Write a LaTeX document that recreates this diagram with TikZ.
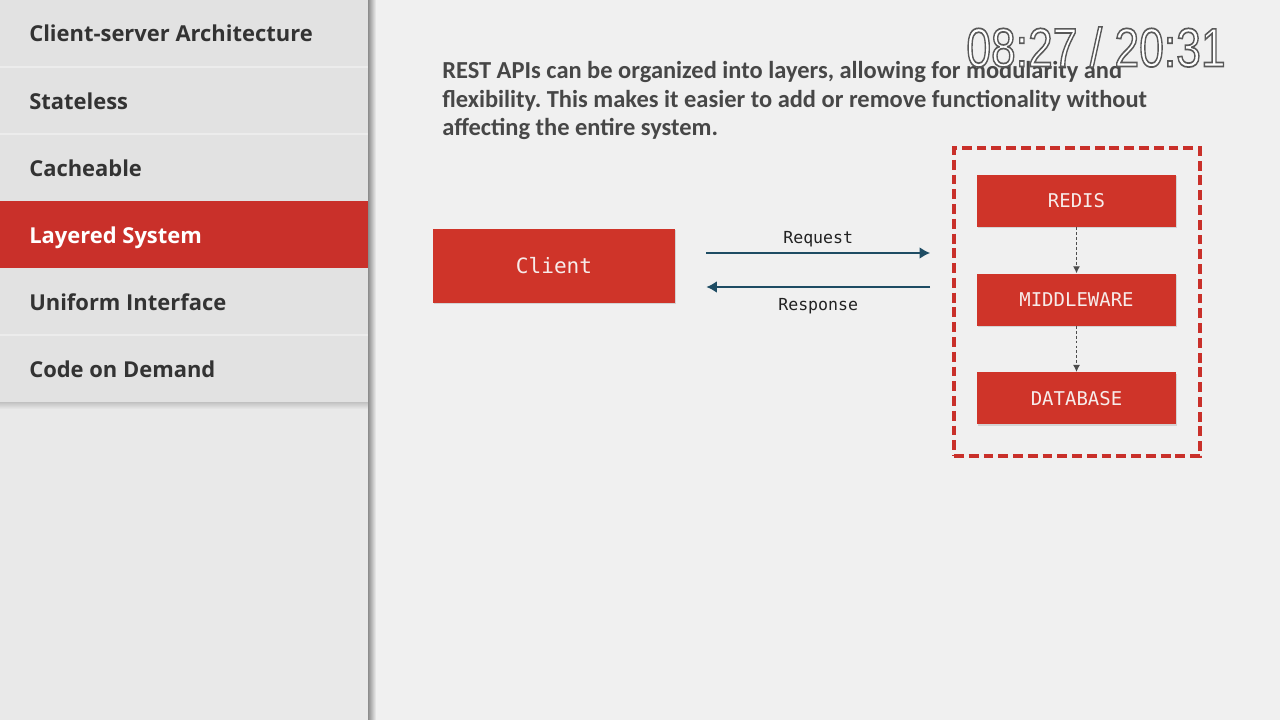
\documentclass[tikz,border=0pt]{standalone}
\usepackage{fontspec}
\setmainfont{Carlito}
\setmonofont{DejaVu Sans Mono}
\newfontfamily\menufont{Open Sans}
\newfontfamily\clockfont{Liberation Sans}
\usepackage{tikz}
\usetikzlibrary{arrows.meta}
\usetikzlibrary{shadows}
\usetikzlibrary{calc}
\usetikzlibrary{positioning}

\definecolor{slidebg}{HTML}{F0F0F0}
\definecolor{sidebg}{HTML}{E2E2E2}
\definecolor{sidelow}{HTML}{E9E9E9}
\definecolor{menutext}{HTML}{333333}
\definecolor{menured}{HTML}{C9302A}
\definecolor{boxred}{HTML}{CF3429}
\definecolor{boxtext}{HTML}{F7ECEA}
\definecolor{bodytext}{HTML}{474747}
\definecolor{linkblue}{HTML}{1E4C63}
\definecolor{msgtext}{HTML}{222222}

\frenchspacing
\begin{document}
\begin{tikzpicture}[x=0.025cm, y=-0.025cm,
    menu/.style={anchor=base west, inner sep=0pt,
      font=\menufont\bfseries\fontsize{15.6}{18}\selectfont},
    redbox/.style={fill=boxred, text=boxtext, inner sep=0pt,
      font=\ttfamily\fontsize{13.5}{16}\selectfont,
      drop shadow={opacity=0.25, shadow xshift=0.7pt, shadow yshift=-1pt}},
    layer/.style={redbox, minimum width=4.975cm, minimum height=1.3cm},
    flow/.style={draw=linkblue, line width=1.8pt,
      -{Latex[length=7.5pt,width=8.5pt]}},
    msg/.style={font=\ttfamily\fontsize{11.8}{14}\selectfont, text=msgtext, inner sep=0pt},
    hop/.style={draw=black!70, dash pattern=on 2pt off 1.5pt, line width=0.7pt,
      -{Latex[length=5pt,width=5pt]}},
    clock/.style={inner sep=0pt, text=white, xscale=0.81,
      font=\clockfont\fontsize{39}{44}\selectfont}]
  \path[use as bounding box] (0,0) rectangle (1280,720);
  \fill[slidebg] (0,0) rectangle (1280,720);

  % sidebar
  \fill[sidebg] (0,0) rectangle (368,403);
  \shade[top color=sidelow, bottom color=slidebg!97!black] (0,403) rectangle (368,720);
  \shade[top color=black!22, bottom color=sidelow] (0,403) rectangle (368,409);
  \shade[left color=black!45, right color=slidebg] (368,0) rectangle (376,720);
  \foreach \y in {67,134,335}
    \draw[white!35!sidebg, line width=0.8pt] (0,\y) -- (368,\y);
  \fill[menured] (0,201) rectangle (368,268);
  \foreach \txt/\col [count=\i] in {Client-server Architecture/menutext, Stateless/menutext,
      Cacheable/menutext, Layered System/white, Uniform Interface/menutext, Code on Demand/menutext}
    \node[menu, text=\col] (item\i) at (29, {42+67.2*(\i-1)}) {\txt};

  % text
  \node[anchor=north west, inner sep=0pt, align=left, text=bodytext,
    font=\bfseries\fontsize{17.4}{20.4}\selectfont] (intro) at (442,61)
    {REST APIs can be organized into layers, allowing for modularity and\\
     flexibility. This makes it easier to add or remove functionality without\\
     affecting the entire system.};

  \node[clock] (clock) at (1096,47)
    {\special{pdf:literal direct 0.35 0.35 0.35 RG 2 Tr 1.2 w}08:27 / 20:31\special{pdf:literal direct 0 Tr}};

  % client and server layers
  \node[redbox, minimum width=6.05cm, minimum height=1.85cm,
    font=\ttfamily\fontsize{15}{18}\selectfont] (client) at (554,266) {Client};

  \node[draw=menured, line width=2.6pt, dash pattern=on 7pt off 3.5pt,
    minimum width=6.15cm, minimum height=7.7cm] (server) at (1077,302) {};
  \node[layer] (redis) at (1076.5,201) {REDIS};
  \node[layer, below=1.15cm of redis] (middleware) {MIDDLEWARE};
  \node[layer, below=1.15cm of middleware] (database) {DATABASE};

  \draw[hop] (redis) -- (middleware);
  \draw[hop] (middleware) -- (database);

  \draw[flow] ($(client.east)+(31,-13)$) -- ($(client.east -| server.west)+(-22,-13)$)
    node[msg, midway, above=0.12cm] (request) {Request};
  \draw[flow] ($(client.east -| server.west)+(-22,21)$) -- ($(client.east)+(31,21)$)
    node[msg, midway, below=0.25cm] (response) {Response};
\end{tikzpicture}
\end{document}
